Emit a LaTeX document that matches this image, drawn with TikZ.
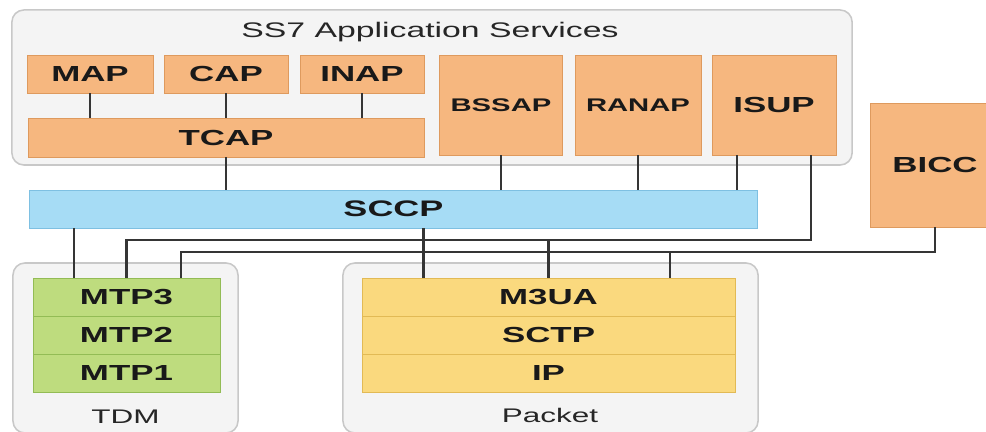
\documentclass[tikz,border=0pt]{standalone}
\usepackage{fontspec}
\newfontfamily\diagfont[FakeStretch=1.6]{Liberation Sans}
\usetikzlibrary{calc}

\definecolor{apporange}{HTML}{F6B77F}
\definecolor{appedge}{HTML}{DE9A5E}
\definecolor{sccpblue}{HTML}{A6DCF5}
\definecolor{sccpedge}{HTML}{7EC0E2}
\definecolor{tdmgreen}{HTML}{BEDC7E}
\definecolor{tdmedge}{HTML}{93BC55}
\definecolor{ipyellow}{HTML}{FAD97E}
\definecolor{ipedge}{HTML}{E2BA55}
\definecolor{grpfill}{HTML}{F4F4F4}
\definecolor{grpedge}{HTML}{C8C8C8}
\definecolor{wire}{HTML}{353535}

\tikzset{
  box/.style={inner sep=0pt, outer sep=0pt, line width=0.6pt, text=black!90,
    font=\diagfont\bfseries\fontsize{15.5}{18}\selectfont},
  appbox/.style={box, draw=appedge, fill=apporange},
  sccpbox/.style={box, draw=sccpedge, fill=sccpblue, font=\diagfont\bfseries\fontsize{16}{19}\selectfont},
  tdmbox/.style={box, draw=tdmedge, fill=tdmgreen, minimum width=4.675cm, minimum height=0.95cm},
  ipbox/.style={box, draw=ipedge, fill=ipyellow, minimum width=9.325cm, minimum height=0.95cm},
  group/.style={draw=grpedge, fill=grpfill, line width=1.1pt, rounded corners=0.3cm, inner sep=0pt},
  grouplabel/.style={font=\diagfont\fontsize{14}{17}\selectfont, text=black!85},
  link/.style={draw=wire, line width=1.6pt}
}

\begin{document}
\begin{tikzpicture}[x=0.025cm,y=-0.025cm]
  \useasboundingbox (0,0) rectangle (986,432);

  % group boxes
  \node[group, minimum width=21cm, minimum height=3.875cm] (appgrp) at (432,87.5) {};
  \node[group, minimum width=5.625cm, minimum height=4.25cm] (tdmgrp) at (125.5,348) {};
  \node[group, minimum width=10.375cm, minimum height=4.25cm] (pktgrp) at (550.5,348) {};
  \node[font=\diagfont\fontsize{15}{18}\selectfont, text=black!85] (apptitle) at (430,32) {SS7 Application Services};
  \node[grouplabel] (tdmtitle) at (125.5,417) {TDM};
  \node[grouplabel] (pkttitle) at (550,415) {Packet};

  % application parts
  \node[appbox, minimum width=3.15cm, minimum height=0.95cm] (map) at (90,74) {MAP};
  \node[appbox, minimum width=3.1cm, minimum height=0.95cm] (cap) at (226,74) {CAP};
  \node[appbox, minimum width=3.1cm, minimum height=0.95cm] (inap) at (362,74) {INAP};
  \node[appbox, minimum width=9.9cm, minimum height=0.975cm] (tcap) at (226,137.5) {TCAP};
  \node[appbox, minimum width=3.075cm, minimum height=2.5cm, font=\diagfont\bfseries\fontsize{13}{16}\selectfont] (bssap) at (501,105) {BSSAP};
  \node[appbox, minimum width=3.15cm, minimum height=2.5cm, font=\diagfont\bfseries\fontsize{13}{16}\selectfont] (ranap) at (638,105) {RANAP};
  \node[appbox, minimum width=3.1cm, minimum height=2.5cm] (isup) at (774,105) {ISUP};
  \node[appbox, minimum width=3.25cm, minimum height=3.1cm] (bicc) at (935,165) {BICC};

  \node[sccpbox, minimum width=18.175cm, minimum height=0.95cm] (sccp) at (393.5,209) {SCCP};

  % transport stacks
  \node[tdmbox] (mtp3) at (126.5,297) {MTP3};
  \node[tdmbox] (mtp2) at (126.5,335) {MTP2};
  \node[tdmbox] (mtp1) at (126.5,373) {MTP1};
  \node[ipbox] (m3ua) at (548.5,297) {M3UA};
  \node[ipbox] (sctp) at (548.5,335) {SCTP};
  \node[ipbox] (ip) at (548.5,373) {IP};

  % taps on the box edges
  \coordinate (isupL) at ($(isup.south west)!0.2!(isup.south east)$);
  \coordinate (isupR) at ($(isup.south west)!0.8!(isup.south east)$);
  \coordinate (mtpA) at ($(mtp3.north west)!0.22!(mtp3.north east)$);
  \coordinate (mtpC) at ($(mtp3.north west)!0.79!(mtp3.north east)$);
  \coordinate (m3uaA) at ($(m3ua.north west)!0.165!(m3ua.north east)$);
  \coordinate (m3uaC) at ($(m3ua.north west)!0.825!(m3ua.north east)$);
  \coordinate (busA) at (0,240);
  \coordinate (busB) at (0,252);

  \draw[link] (map.south) -- (map.south |- tcap.north);
  \draw[link] (cap.south) -- (cap.south |- tcap.north);
  \draw[link] (inap.south) -- (inap.south |- tcap.north);
  \draw[link] (tcap.south) -- (tcap.south |- sccp.north);
  \draw[link] (bssap.south) -- (bssap.south |- sccp.north);
  \draw[link] (ranap.south) -- (ranap.south |- sccp.north);
  \draw[link] (isupL) -- (isupL |- sccp.north);

  \draw[link] (sccp.south -| mtpA) -- (mtpA); % SCCP - MTP3
  \draw[link] (sccp.south -| m3uaA) -- (m3uaA); % SCCP - M3UA

  \draw[link] (isupR) |- (busA -| mtp3.north) -- (mtp3.north); % ISUP - MTP3
  \draw[link] (busA -| m3ua.north) -- (m3ua.north); % ISUP - M3UA
  \draw[link] (bicc.south) |- (busB -| mtpC) -- (mtpC); % BICC - MTP3
  \draw[link] (busB -| m3uaC) -- (m3uaC); % BICC - M3UA
\end{tikzpicture}
\end{document}
